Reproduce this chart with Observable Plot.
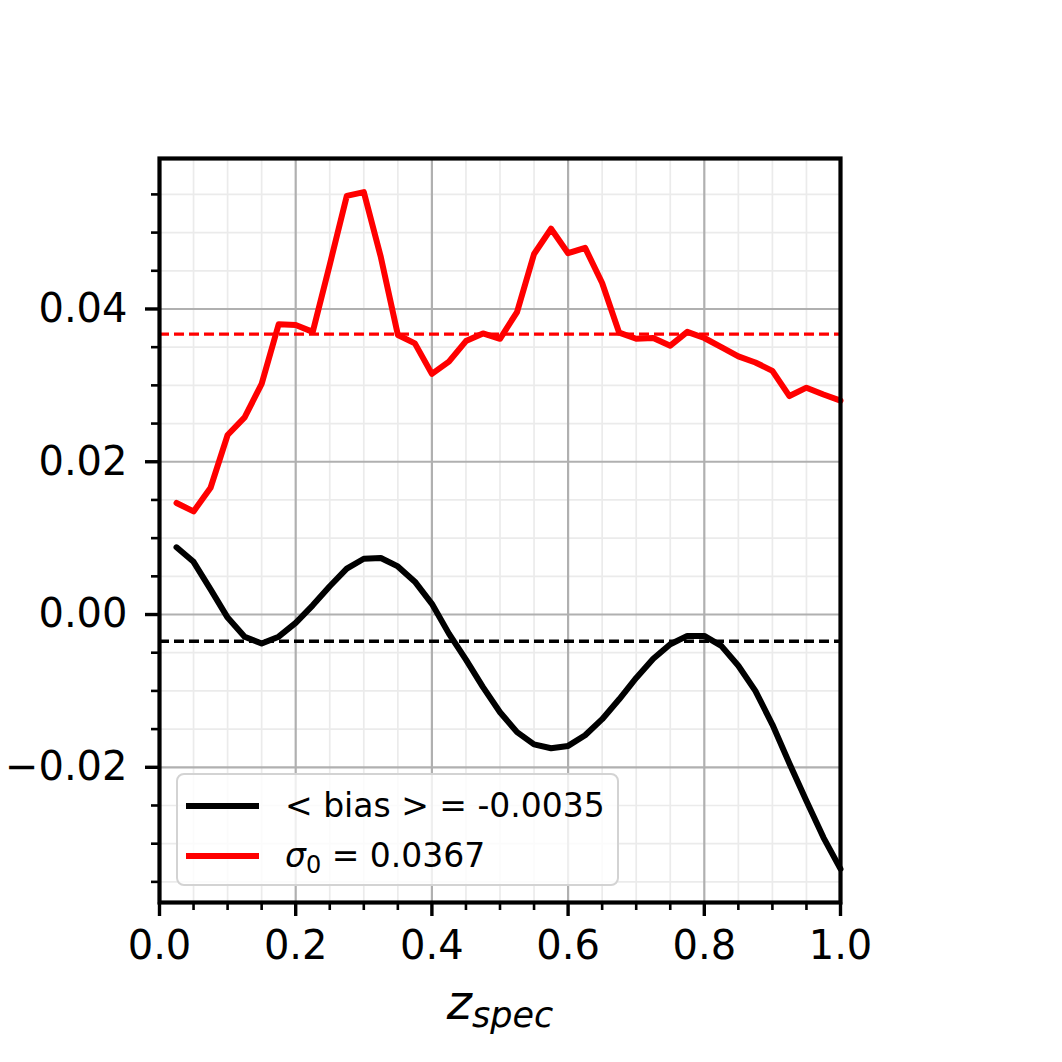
<!DOCTYPE html>
<html>
<head>
<meta charset="utf-8">
<script src="https://cdn.jsdelivr.net/npm/d3@7"></script>
<script src="https://cdn.jsdelivr.net/npm/@observablehq/plot@0.6"></script>
<style>
  html, body { margin: 0; padding: 0; background: #fff; }
  #wrap { position: relative; width: 1062px; height: 1062px; font-family: "DejaVu Sans", sans-serif; }
  #legend {
    position: absolute; left: 176px; top: 773px; width: 439px; height: 109px;
    background: rgba(255,255,255,0.8); border: 2.5px solid #d3d3d3; border-radius: 8px;
    font-family: "DejaVu Sans", sans-serif; font-size: 33px; color: #000;
  }
  .row { position: absolute; left: 0; height: 50px; width: 100%; }
  .swatch { position: absolute; left: 8px; width: 73px; height: 6px; }
  .lab { position: absolute; left: 107px; white-space: nowrap; line-height: 1; }
</style>
</head>
<body>
<div id="wrap"></div>
<script>
// ---- data ----
const zSpec = [0.025,0.05,0.075,0.1,0.125,0.15,0.175,0.2,0.225,0.25,0.275,0.3,0.325,0.35,0.375,0.4,
  0.425,0.45,0.475,0.5,0.525,0.55,0.575,0.6,0.625,0.65,0.675,0.7,0.725,0.75,0.775,0.8,
  0.825,0.85,0.875,0.9,0.925,0.95,0.975,1.0];
const bias = [0.0088,0.0069,0.0033,-0.0004,-0.0029,-0.0038,-0.0029,-0.0011,0.0012,0.0037,0.0060,0.0073,
  0.0074,0.0063,0.0043,0.0014,-0.0025,-0.0059,-0.0095,-0.0128,-0.0154,-0.0170,-0.0175,-0.0172,
  -0.0158,-0.0137,-0.0111,-0.0083,-0.0058,-0.0039,-0.0028,-0.0028,-0.0041,-0.0067,-0.0100,-0.0144,
  -0.0195,-0.0244,-0.0292,-0.0333];
const sigma = [0.0146,0.0135,0.0166,0.0235,0.0258,0.0302,0.0380,0.0379,0.0370,0.0458,0.0548,0.0553,
  0.0468,0.0366,0.0355,0.0315,0.0331,0.0358,0.0368,0.0361,0.0396,0.0472,0.0505,0.0473,
  0.0480,0.0434,0.0369,0.0361,0.0362,0.0352,0.0370,0.0362,0.0350,0.0338,0.0330,0.0319,
  0.0286,0.0297,0.0288,0.0280];
const meanBias = -0.0035;
const sigma0 = 0.0367;
const xTicks = [0.0, 0.2, 0.4, 0.6, 0.8, 1.0];
const xMinor = [0.05,0.1,0.15,0.25,0.3,0.35,0.45,0.5,0.55,0.65,0.7,0.75,0.85,0.9,0.95];
const yTicks = [-0.02, 0.0, 0.02, 0.04];
const yMinor = [-0.035,-0.03,-0.025,-0.015,-0.01,-0.005,0.005,0.01,0.015,0.025,0.03,0.035,0.045,0.05,0.055];
const legendLabels = ["< bias > = -0.0035", "σ0 = 0.0367"];

const biasData = zSpec.map((z, i) => ({z, v: bias[i]}));
const sigmaData = zSpec.map((z, i) => ({z, v: sigma[i]}));

const fmtY = d3.format(".2f");
const fmtX = d3.format(".1f");

const chart = Plot.plot({
  width: 1062,
  height: 1062,
  marginLeft: 159,
  marginRight: 222,
  marginTop: 158,
  marginBottom: 160,
  style: { fontFamily: "DejaVu Sans, sans-serif", background: "#fff", color: "#000" },
  x: { domain: [0, 1] },
  y: { domain: [-0.0377, 0.0597] },
  marks: [
    Plot.gridX(xMinor, { stroke: "#ebebeb", strokeOpacity: 1, strokeWidth: 1.7 }),
    Plot.gridY(yMinor, { stroke: "#ebebeb", strokeOpacity: 1, strokeWidth: 1.7 }),
    Plot.gridX(xTicks, { stroke: "#b0b0b0", strokeOpacity: 1, strokeWidth: 2.2 }),
    Plot.gridY(yTicks, { stroke: "#b0b0b0", strokeOpacity: 1, strokeWidth: 2.2 }),
    Plot.ruleY([meanBias], { stroke: "#000", strokeWidth: 3.3, strokeDasharray: "10,5" }),
    Plot.ruleY([sigma0], { stroke: "#ff0000", strokeWidth: 3.3, strokeDasharray: "10,5" }),
    Plot.line(biasData, { x: "z", y: "v", stroke: "#000", strokeWidth: 6, strokeLinejoin: "round" }),
    Plot.line(sigmaData, { x: "z", y: "v", stroke: "#ff0000", strokeWidth: 6, strokeLinejoin: "round" }),
    Plot.axisX(xMinor, { tickSize: 8, strokeWidth: 2.6, tickFormat: () => "", label: null }),
    Plot.axisY(yMinor, { tickSize: 8, strokeWidth: 2.6, tickFormat: () => "", label: null }),
    Plot.axisX(xTicks, { tickSize: 14, tickPadding: 14, strokeWidth: 3.4, fontSize: 40, tickFormat: fmtX, label: null }),
    Plot.axisY(yTicks, { tickSize: 14, tickPadding: 18, strokeWidth: 3.4, fontSize: 40, tickFormat: fmtY, label: null }),
    Plot.frame({ stroke: "#000", strokeWidth: 4.2 })
  ]
});

const wrap = document.getElementById("wrap");
wrap.appendChild(chart);

// x axis label: z_spec (italic, with subscript)
const svg = d3.select(chart);
const xl = svg.append("text")
  .attr("x", 500).attr("y", 1019)
  .attr("text-anchor", "middle")
  .attr("font-family", "DejaVu Sans, sans-serif")
  .attr("font-style", "italic")
  .attr("fill", "#000");
xl.append("tspan").attr("font-size", 48).text("z");
xl.append("tspan").attr("font-size", 35).attr("dy", 8).text("spec");

// legend (inside the axes, lower left)
const legend = document.createElement("div");
legend.id = "legend";
legend.innerHTML = `
  <div class="row" style="top:2px">
    <div class="swatch" style="top:26px;background:#000"></div>
    <div class="lab" style="top:12px">${legendLabels[0].replace(/</g,"&lt;").replace(/>/g,"&gt;")}</div>
  </div>
  <div class="row" style="top:52px">
    <div class="swatch" style="top:26px;background:#ff0000"></div>
    <div class="lab" style="top:12px"><i>σ</i><sub style="font-size:24px;vertical-align:-6px">0</sub> = 0.0367</div>
  </div>`;
wrap.appendChild(legend);
</script>
</body>
</html>
